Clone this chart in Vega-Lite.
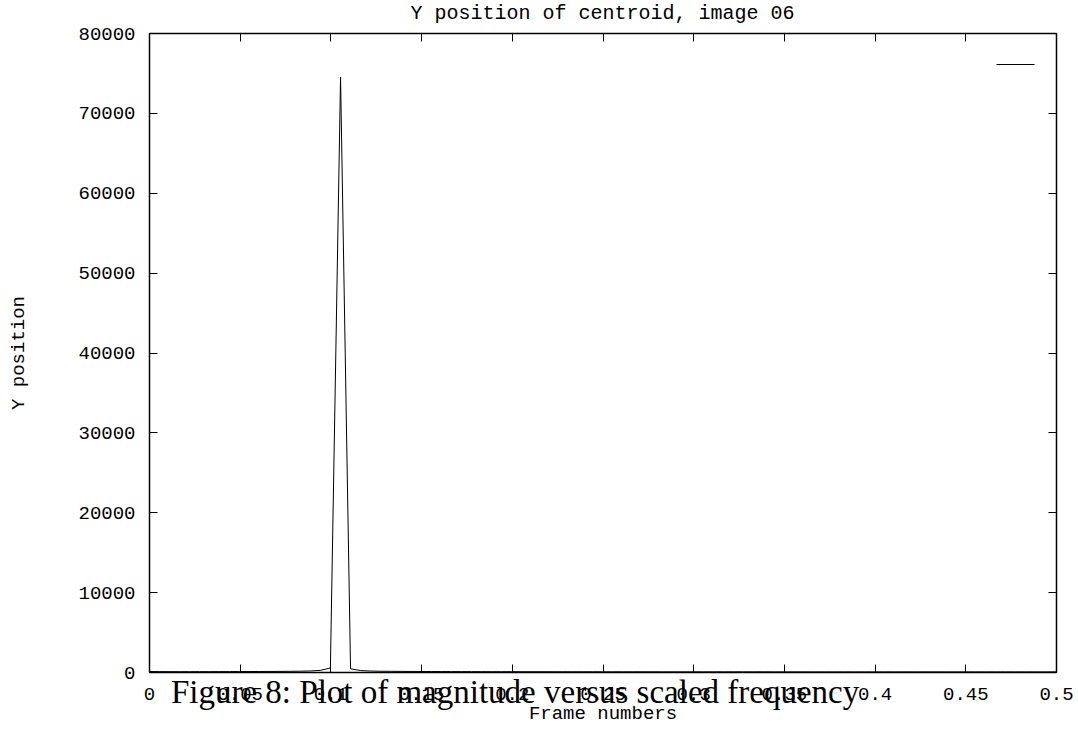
{
  "$schema": "https://vega.github.io/schema/vega-lite/v6.json",
  "width": 907,
  "height": 639,
  "autosize": {"type": "none"},
  "padding": {"left": 149, "top": 33, "right": 22, "bottom": 57},
  "background": "white",
  "view": {"stroke": null},
  "config": {
    "font": "Liberation Mono",
    "axis": {
      "domainColor": "black",
      "domainWidth": 1.5,
      "tickColor": "black",
      "tickWidth": 1,
      "tickSize": -8,
      "grid": false,
      "labelColor": "black",
      "labelFont": "Liberation Mono",
      "labelFontSize": 19,
      "titleFont": "Liberation Mono",
      "titleFontSize": 19,
      "titleFontWeight": "normal",
      "titleColor": "black"
    },
    "title": {"font": "Liberation Mono", "fontSize": 20, "fontWeight": "normal", "color": "black"}
  },
  "title": {"text": "Y position of centroid, image 06", "offset": 1},
  "layer": [
    {
      "data": {
        "values": [
          {"f": 0, "m": 60}, {"f": 0.0056, "m": 50}, {"f": 0.0111, "m": 45}, {"f": 0.0167, "m": 40},
          {"f": 0.0222, "m": 40}, {"f": 0.0278, "m": 45}, {"f": 0.0333, "m": 45}, {"f": 0.0389, "m": 50},
          {"f": 0.0444, "m": 50}, {"f": 0.05, "m": 55}, {"f": 0.0556, "m": 60}, {"f": 0.0611, "m": 65},
          {"f": 0.0667, "m": 70}, {"f": 0.0722, "m": 75}, {"f": 0.0778, "m": 85}, {"f": 0.0833, "m": 100},
          {"f": 0.0889, "m": 130}, {"f": 0.0944, "m": 200}, {"f": 0.1, "m": 500}, {"f": 0.1056, "m": 74500},
          {"f": 0.1111, "m": 400}, {"f": 0.1167, "m": 180}, {"f": 0.1222, "m": 120}, {"f": 0.1278, "m": 95},
          {"f": 0.1333, "m": 85}, {"f": 0.1389, "m": 75}, {"f": 0.1444, "m": 70}, {"f": 0.15, "m": 65},
          {"f": 0.1556, "m": 60}, {"f": 0.1611, "m": 55}, {"f": 0.1667, "m": 50}, {"f": 0.1722, "m": 50},
          {"f": 0.1778, "m": 45}, {"f": 0.1833, "m": 45}, {"f": 0.1889, "m": 40}, {"f": 0.1944, "m": 40},
          {"f": 0.2, "m": 40}, {"f": 0.2056, "m": 35}, {"f": 0.2111, "m": 35}, {"f": 0.2167, "m": 35},
          {"f": 0.2222, "m": 30}, {"f": 0.2278, "m": 30}, {"f": 0.2333, "m": 30}, {"f": 0.2389, "m": 30},
          {"f": 0.2444, "m": 30}, {"f": 0.25, "m": 25}, {"f": 0.2556, "m": 25}, {"f": 0.2611, "m": 25},
          {"f": 0.2667, "m": 25}, {"f": 0.2722, "m": 25}, {"f": 0.2778, "m": 25}, {"f": 0.2833, "m": 20},
          {"f": 0.2889, "m": 20}, {"f": 0.2944, "m": 20}, {"f": 0.3, "m": 20}, {"f": 0.3056, "m": 20},
          {"f": 0.3111, "m": 20}, {"f": 0.3167, "m": 20}, {"f": 0.3222, "m": 20}, {"f": 0.3278, "m": 20},
          {"f": 0.3333, "m": 20}, {"f": 0.3389, "m": 20}, {"f": 0.3444, "m": 15}, {"f": 0.35, "m": 15},
          {"f": 0.3556, "m": 15}, {"f": 0.3611, "m": 15}, {"f": 0.3667, "m": 15}, {"f": 0.3722, "m": 15},
          {"f": 0.3778, "m": 15}, {"f": 0.3833, "m": 15}, {"f": 0.3889, "m": 15}, {"f": 0.3944, "m": 15},
          {"f": 0.4, "m": 15}, {"f": 0.4056, "m": 15}, {"f": 0.4111, "m": 15}, {"f": 0.4167, "m": 15},
          {"f": 0.4222, "m": 15}, {"f": 0.4278, "m": 15}, {"f": 0.4333, "m": 15}, {"f": 0.4389, "m": 15},
          {"f": 0.4444, "m": 15}, {"f": 0.45, "m": 15}, {"f": 0.4556, "m": 15}, {"f": 0.4611, "m": 15},
          {"f": 0.4667, "m": 15}, {"f": 0.4722, "m": 15}, {"f": 0.4778, "m": 15}, {"f": 0.4833, "m": 15},
          {"f": 0.4889, "m": 15}, {"f": 0.4944, "m": 15}, {"f": 0.5, "m": 15}
        ]
      },
      "layer": [
        {
          "mark": {"type": "line", "strokeWidth": 1, "clip": true},
          "encoding": {
            "x": {
              "field": "f", "type": "quantitative",
              "scale": {"domain": [0, 0.5], "nice": false, "zero": false},
              "axis": {
                "orient": "bottom",
                "values": [0, 0.05, 0.1, 0.15, 0.2, 0.25, 0.3, 0.35, 0.4, 0.45, 0.5],
                "format": "~g",
                "labelPadding": 20,
                "labelFlush": false,
                "labelOverlap": false,
                "title": "Frame numbers",
                "titleX": 453.5,
                "titleY": 40,
                "titleBaseline": "middle",
                "titleAlign": "center"
              }
            },
            "y": {
              "field": "m", "type": "quantitative",
              "scale": {"domain": [0, 80000], "nice": false},
              "axis": {
                "orient": "left",
                "values": [0, 10000, 20000, 30000, 40000, 50000, 60000, 70000, 80000],
                "format": "d",
                "labelPadding": 22,
                "labelOverlap": false,
                "labelFlush": false,
                "title": "Y position",
                "titleAngle": -90,
                "titleX": -132,
                "titleY": 319.5,
                "titleBaseline": "middle",
                "titleAlign": "center"
              }
            },
            "color": {
              "datum": "magnitude",
              "scale": {"range": ["black"]},
              "legend": {
                "orient": "none",
                "legendX": 847,
                "legendY": 12,
                "title": null,
                "padding": 0,
                "symbolType": "stroke",
                "symbolSize": 1444,
                "symbolStrokeWidth": 1,
                "symbolStrokeColor": "black",
                "labelExpr": "''",
                "labelFontSize": 1
              }
            }
          }
        },
        {
          "mark": {"type": "line", "opacity": 0},
          "encoding": {
            "x": {
              "field": "f", "type": "quantitative",
              "axis": {
                "orient": "top",
                "values": [0, 0.05, 0.1, 0.15, 0.2, 0.25, 0.3, 0.35, 0.4, 0.45, 0.5],
                "labels": false,
                "title": null
              }
            },
            "y": {
              "field": "m", "type": "quantitative",
              "axis": {
                "orient": "right",
                "values": [0, 10000, 20000, 30000, 40000, 50000, 60000, 70000, 80000],
                "labels": false,
                "title": null
              }
            }
          }
        }
      ]
    },
    {
      "data": {"values": [{"caption": "Figure 8: Plot of magnitude versus scaled frequency"}]},
      "mark": {"type": "text", "font": "Liberation Serif", "fontSize": 33, "align": "left", "baseline": "middle", "color": "black"},
      "encoding": {
        "x": {"datum": 0.0121, "axis": null},
        "y": {"datum": -2629, "axis": null},
        "text": {"field": "caption"}
      }
    }
  ]
}
